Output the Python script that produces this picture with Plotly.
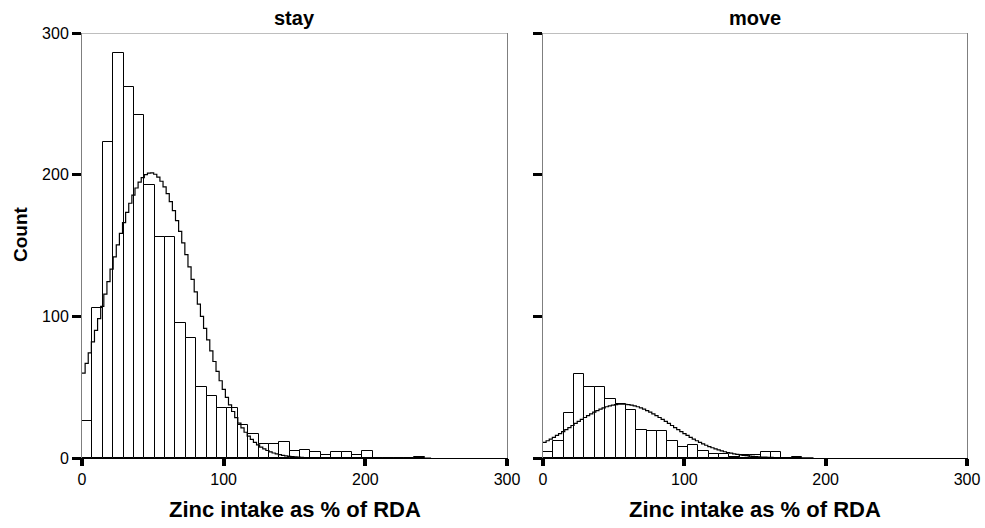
import numpy as np
import plotly.graph_objects as go

# ---- data ----
bin_width = 7.33          # histogram bin width (% of RDA)
bin_start = 0.0

stay_counts = [26, 106, 223, 286, 262, 242, 193, 156, 156, 95, 85, 50, 44, 35, 35,
               23, 17, 10, 10, 11, 5, 6, 4, 2, 4, 4, 2, 5, 0, 0, 0, 0, 1]
move_counts = [4, 12, 32, 59, 50, 50, 42, 38, 34, 20, 19, 19, 12, 8, 9,
               5, 3, 3, 1, 2, 2, 4, 4, 0, 1]

# normal-curve parameters (mean, sd, n) as displayed by the fitted curves
stay_mean, stay_sd, stay_n = 47.5, 30.5, 2100
move_mean, move_sd, move_n = 55.0, 35.0, 455
stay_curve_max = 245
move_curve_max = 190

panel_titles = ["stay", "move"]
x_title = "Zinc intake as % of RDA"
y_title = "Count"
tick_vals = [0, 100, 200, 300]

W, H = 985, 528
FONT = "Liberation Sans, Arial, sans-serif"
GRAY = "#7f7f7f"


def px_x(p):
    return p / W


def px_y(p):
    return (H - p) / H


def centers(counts):
    return [bin_start + bin_width * (i + 0.5) for i in range(len(counts))]


def normal_curve(mean, sd, n, xmax, step=2.2):
    xs = np.arange(0, xmax + step, step)
    ys = n * bin_width / (sd * np.sqrt(2 * np.pi)) * np.exp(-0.5 * ((xs - mean) / sd) ** 2)
    return xs, ys


fig = go.Figure()

for k, (counts, mean, sd, n, cmax) in enumerate([
        (stay_counts, stay_mean, stay_sd, stay_n, stay_curve_max),
        (move_counts, move_mean, move_sd, move_n, move_curve_max)]):
    xa = "x" if k == 0 else "x2"
    ya = "y" if k == 0 else "y2"
    fig.add_trace(go.Bar(
        x=centers(counts), y=counts, width=bin_width,
        marker=dict(color="white", line=dict(color="black", width=1)),
        xaxis=xa, yaxis=ya, showlegend=False, hoverinfo="x+y"))
    cx, cy = normal_curve(mean, sd, n, cmax)
    fig.add_trace(go.Scatter(
        x=cx, y=cy, mode="lines", line=dict(color="black", width=1.2, shape="hv"),
        xaxis=xa, yaxis=ya, showlegend=False, hoverinfo="skip"))

xdom1 = [px_x(82), px_x(507)]
xdom2 = [px_x(543), px_x(967)]
ydom = [px_y(458), px_y(33)]

xcommon = dict(range=[0, 300], tickvals=tick_vals, ticks="outside", ticklen=7,
               tickwidth=4, tickcolor="black", showline=True, linecolor="black",
               linewidth=1, showgrid=False, zeroline=False, automargin=False,
               tickfont=dict(family=FONT, size=16, color="black"))
ycommon = dict(range=[0, 300], tickvals=tick_vals, ticks="outside", ticklen=9,
               tickwidth=3, tickcolor="black", showline=True, linecolor=GRAY,
               linewidth=1, mirror=True, showgrid=False, zeroline=False, automargin=False,
               tickfont=dict(family=FONT, size=16, color="black"))

fig.update_layout(
    width=W, height=H,
    margin=dict(l=0, r=0, t=0, b=0, autoexpand=False),
    paper_bgcolor="white", plot_bgcolor="white",
    bargap=0,
    xaxis=dict(domain=xdom1, anchor="y", **xcommon),
    yaxis=dict(domain=ydom, anchor="x", **ycommon),
    xaxis2=dict(domain=xdom2, anchor="y2", **xcommon),
    yaxis2=dict(domain=ydom, anchor="x2", showticklabels=False, **ycommon),
)

# gray top borders
for xa, ya in [("x", "y"), ("x2", "y2")]:
    fig.add_shape(type="line", xref=xa, yref=ya, x0=0, x1=300, y0=300, y1=300,
                  line=dict(color=GRAY, width=1), layer="above")

ann = []
for dom, t in zip([xdom1, xdom2], panel_titles):
    cx = (dom[0] + dom[1]) / 2
    ann.append(dict(text=f"<b>{t}</b>", x=cx, y=px_y(18), xref="paper", yref="paper",
                    xanchor="center", yanchor="middle", showarrow=False,
                    font=dict(family=FONT, size=20, color="black")))
    ann.append(dict(text=f"<b>{x_title}</b>", x=cx, y=px_y(509), xref="paper",
                    yref="paper", xanchor="center", yanchor="middle", showarrow=False,
                    font=dict(family=FONT, size=22, color="black")))
ann.append(dict(text=f"<b>{y_title}</b>", x=px_x(20), y=px_y(234), xref="paper",
                yref="paper", xanchor="center", yanchor="middle", showarrow=False,
                textangle=-90, font=dict(family=FONT, size=19, color="black")))
fig.update_layout(annotations=ann)

# remove the default page margin so the figure fills the window exactly
fig.write_html("out.html",
               config={"displayModeBar": False},
               post_script="document.body.style.margin='0px';"
                           "document.body.style.overflow='hidden';")
